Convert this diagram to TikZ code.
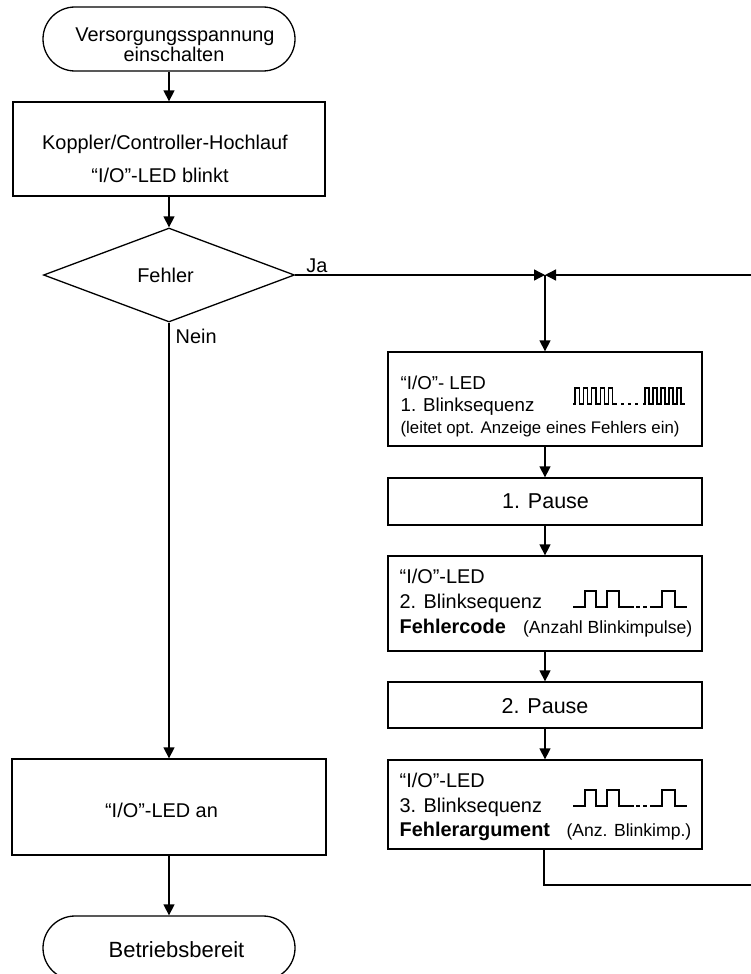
\documentclass[tikz,border=0pt]{standalone}
\usepackage{fontspec}
\setmainfont{Liberation Sans}
\usetikzlibrary{shapes.geometric,arrows.meta,calc}
\begin{document}
\begin{tikzpicture}[x=1pt,y=-1pt,line width=1.3pt,
  box/.style={draw, rectangle, inner sep=0pt, minimum width=314pt},
  term/.style={draw, rectangle, rounded corners=32pt, minimum width=252pt, minimum height=64pt, inner sep=0pt},
  txt/.style={inner sep=0pt, anchor=base},
  ltxt/.style={inner sep=0pt, anchor=base west},
  rtxt/.style={inner sep=0pt, anchor=base east},
  fm/.style={font=\fontsize{19.9}{20}\selectfont},
  fb/.style={font=\fontsize{21.5}{22}\selectfont},
  fs/.style={font=\fontsize{17.6}{18}\selectfont},
  arr/.style={-{Triangle[length=11pt,width=11pt]}},
  pulse/.style={line width=1.2pt}
]
\useasboundingbox (0,0) rectangle (751,974);
\fill[white] (0,0) rectangle (751,974);

% left column
\node[term] (start) at (169,39) {};
\node[txt,fm] (startt1) at (175,42) {Versorgungsspannung};
\node[txt,fm] (startt2) at (174,62) {einschalten};

\node[box, minimum width=312pt, minimum height=94pt] (boot) at (169,149) {};
\node[txt,fm] (boott1) at (165,149) {Koppler/Controller-Hochlauf};
\node[txt,fm] (boott2) at (160,182) {“I/O”-LED blinkt};

\node[draw, diamond, inner sep=0pt, minimum width=251pt, minimum height=94pt] (dia) at (169,275) {};
\node[txt,fm] (diat) at (165.5,282) {Fehler};
\node[txt,fm] (ja) at (317,272) {Ja};
\node[ltxt,fm] (nein) at (175,343) {Nein};

\node[box, minimum height=96pt] (ledan) at (169,807) {};
\node[txt,fm] (ledant) at (161.5,817) {“I/O”-LED an};

\node[term] (ende) at (169,948) {};
\node[txt,font=\fontsize{22}{22}\selectfont] (endet) at (176.5,957) {Betriebsbereit};

% right column
\coordinate (j) at (545,275);
\node[box, minimum height=94pt] (b1) at (545,399) {};
\node[ltxt,font=\fontsize{18.7}{19}\selectfont] (b1t1) at (400,389) {“I/O”- LED};
\node[ltxt,font=\fontsize{18.7}{19}\selectfont] (b1t2) at (400,411) {1. Blinksequenz};
\node[ltxt,font=\fontsize{16.8}{17}\selectfont] (b1t3) at (400,433) {(leitet opt. Anzeige eines Fehlers ein)};

\node[box, minimum height=47pt] (p1) at (545,501.5) {};
\node[txt,fb] (p1t) at (545.5,508) {1. Pause};

\node[box, minimum height=95pt] (b2) at (545,603.5) {};
\node[ltxt,fm] (b2t1) at (399,583) {“I/O”-LED};
\node[ltxt,fm] (b2t2) at (399,608) {2. Blinksequenz};
\node[ltxt,fm] (b2t3) at (399,633) {\bfseries Fehlercode};
\node[rtxt,fs] (b2t4) at (693,633) {(Anzahl Blinkimpulse)};

\node[box, minimum height=46pt] (p2) at (545,705) {};
\node[txt,fb] (p2t) at (545,713) {2. Pause};

\node[box, minimum height=89pt] (b3) at (545,804.5) {};
\node[ltxt,fm] (b3t1) at (399,787) {“I/O”-LED};
\node[ltxt,fm] (b3t2) at (399,812) {3. Blinksequenz};
\node[ltxt,fm] (b3t3) at (399,836) {\bfseries Fehlerargument};
\node[rtxt,fs] (b3t4) at (692,836) {(Anz. Blinkimp.)};

% blink patterns
\draw[pulse] (573,404) -- (575,404) \foreach \i in {0,...,4} { -- ++(0,-16) -- ++(4.2,0) -- ++(0,16) -- ++(4.2,0) };
\foreach \xx in {621,628,635} \draw[pulse] (\xx,404) -- ++(3,0);
\draw[pulse] (643,404) -- (645,404) \foreach \i in {0,...,4} { -- ++(0,-16) -- ++(4,0) -- ++(0,16) -- ++(4,0) };

\foreach \yl/\yh in {607/591, 806/790} {
  \draw[pulse] (573,\yl) -- (585,\yl) -- (585,\yh) -- (596,\yh) -- (596,\yl) -- (607,\yl) -- (607,\yh) -- (619,\yh) -- (619,\yl) -- (634,\yl);
  \draw[pulse] (636,\yl) -- (640,\yl);
  \draw[pulse] (643,\yl) -- (647,\yl);
  \draw[pulse] (650,\yl) -- (662,\yl) -- (662,\yh) -- (675,\yh) -- (675,\yl) -- (687,\yl);
}

% connectors
\draw[arr] (start) -- (boot);
\draw[arr] (boot) -- (dia);
\draw[arr] (dia.east) -- (j);
\draw[arr] (dia.south) -- (ledan.north);
\draw[arr] (ledan) -- (ende);
\draw[arr] (j) -- (b1.north);
\draw[arr] (b1) -- (p1);
\draw[arr] (p1) -- (b2);
\draw[arr] (b2) -- (p2);
\draw[arr] (p2) -- (b3);
\coordinate (lb) at (544,885);
\coordinate (rb) at (753,885);
\coordinate (rt) at (753,275);
\draw[arr] (b3.south -| lb) -- (lb) -- (rb) -- (rt) -- (j);
\end{tikzpicture}
\end{document}
